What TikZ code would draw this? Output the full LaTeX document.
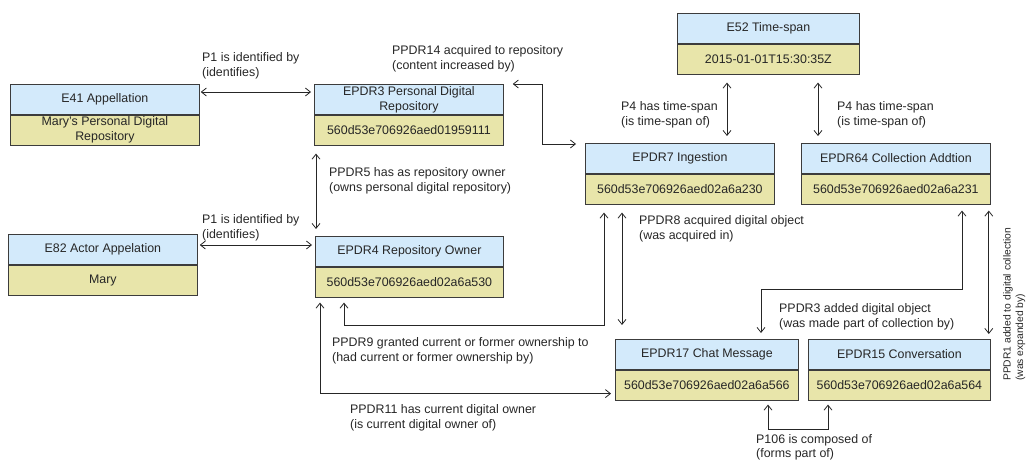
\documentclass[tikz,border=0pt]{standalone}
\usepackage{fontspec}
\setmainfont{Liberation Sans}
\usetikzlibrary{arrows.meta,calc}

\definecolor{clsblue}{RGB}{211,234,251}
\definecolor{valyellow}{RGB}{232,229,170}
\definecolor{ink}{RGB}{38,38,38}
\definecolor{frame}{RGB}{60,60,60}

% An entity: class name on top (blue), instance value below (yellow)
\newcommand\crmentity[6]{%
  \node[clsbox, minimum width=#4pt] (#1) at (#2,#3) {#5};
  \node[valbox, minimum width=#4pt] (#1v) at (#1.south west) {#6};}

\begin{document}
\begin{tikzpicture}[x=1pt, y=-1pt,
  every node/.style={font=\fontsize{12.4}{15}\selectfont, text=ink},
  clsbox/.style={draw=frame, line width=0.8pt, fill=clsblue, minimum height=30pt,
                 inner sep=0pt, align=center, anchor=north west},
  valbox/.style={draw=frame, line width=0.8pt, fill=valyellow, minimum height=30pt,
                 inner sep=0pt, align=center, anchor=north west},
  link/.style={draw=ink, line width=0.8pt,
               {Straight Barb[length=5pt,width=8pt]}-{Straight Barb[length=5pt,width=8pt]}},
  lbl/.style={anchor=north west, inner sep=0pt, align=left}
]
\useasboundingbox (0,0) rectangle (1028,462);

% entities
\crmentity{e41}{10}{84}{189}{E41 Appellation}{Mary’s Personal Digital\\Repository}
\crmentity{epdr3}{314}{84}{189}{EPDR3 Personal Digital\\Repository}{560d53e706926aed01959111}
\crmentity{e52}{677}{13}{182}{E52 Time-span}{2015-01-01T15:30:35Z}
\crmentity{epdr7}{585}{143}{189}{EPDR7 Ingestion}{560d53e706926aed02a6a230}
\crmentity{epdr64}{801}{143}{189}{EPDR64 Collection Addtion}{560d53e706926aed02a6a231}
\crmentity{e82}{8}{234}{189}{E82 Actor Appelation}{Mary}
\crmentity{epdr4}{315}{236}{188}{EPDR4 Repository Owner}{560d53e706926aed02a6a530}
\crmentity{epdr17}{615}{339}{183}{EPDR17 Chat Message}{560d53e706926aed02a6a566}
\crmentity{epdr15}{808}{339}{182}{EPDR15 Conversation}{560d53e706926aed02a6a564}

% properties
\draw[link] ($(e41.north east)+(1,8)$) -- ($(epdr3.north west)+(-3,8)$);
\draw[link] ($(e82.north east)+(2,11)$) -- ($(epdr4.north west)+(-3,9)$);
\draw[link] ($(epdr3v.south west)+(2,8)$) -- ($(epdr4.north west)+(1,-7)$);
\draw[link] ($(epdr3.north east)+(9,0)$) -- ++(30,0) |- ($(epdr7.north west)+(-9,1)$);
\draw[link] ($(e52v.south west)+(50,8)$) -- ($(epdr7.north west)+(142,-7)$);
\draw[link] ($(e52v.south west)+(141,8)$) -- ($(epdr64.north west)+(17,-7)$);
\draw[link] ($(epdr7v.south west)+(37,8)$) -- ($(epdr17.north west)+(7,-14)$);
\draw[link] ($(epdr4v.south west)+(29,5)$) -- ++(0,23) -| ($(epdr7v.south west)+(19,8)$);
\draw[link] ($(epdr4v.south west)+(5,5)$) |- ($(epdr17v.south west)+(-4,-7)$);
\draw[link] ($(epdr64v.south west)+(161,6)$) -- ++(0,79) -| ($(epdr17.north west)+(146,-6)$);
\draw[link] ($(epdr64v.south east)+(-2,6)$) -- ($(epdr15.north east)+(-2,-5)$);
\draw[link] ($(epdr17v.south west)+(153,4)$) -- ++(0,25) -| ($(epdr15v.south west)+(20,4)$);

% property labels
\node[lbl] (lp1a) at (202,52) {P1 is identified by\\(identifies)};
\node[lbl] (lp1b) at (202,214) {P1 is identified by\\(identifies)};
\node[lbl] (lppdr14) at (392,45) {PPDR14 acquired to repository\\(content increased by)};
\node[lbl] (lppdr5) at (329,167) {PPDR5 has as repository owner\\(owns personal digital repository)};
\node[lbl] (lp4a) at (621,101) {P4 has time-span\\(is time-span of)};
\node[lbl] (lp4b) at (837,101) {P4 has time-span\\(is time-span of)};
\node[lbl] (lppdr8) at (639,215) {PPDR8 acquired digital object\\(was acquired in)};
\node[lbl] (lppdr9) at (332,337) {PPDR9 granted current or former ownership to\\(had current or former ownership by)};
\node[lbl] (lppdr11) at (350,404) {PPDR11 has current digital owner\\(is current digital owner of)};
\node[lbl] (lppdr3) at (779,303) {PPDR3 added digital object\\(was made part of collection by)};
\node[lbl, font=\fontsize{12.4}{14}\selectfont] (lp106) at (756,434) {P106 is composed of\\(forms part of)};
\node[lbl, rotate=90, font=\fontsize{10.3}{12.5}\selectfont] (lppdr1) at (1003,381)
  {PPDR1 added to digital collection\\(was expanded by)};
\end{tikzpicture}
\end{document}
